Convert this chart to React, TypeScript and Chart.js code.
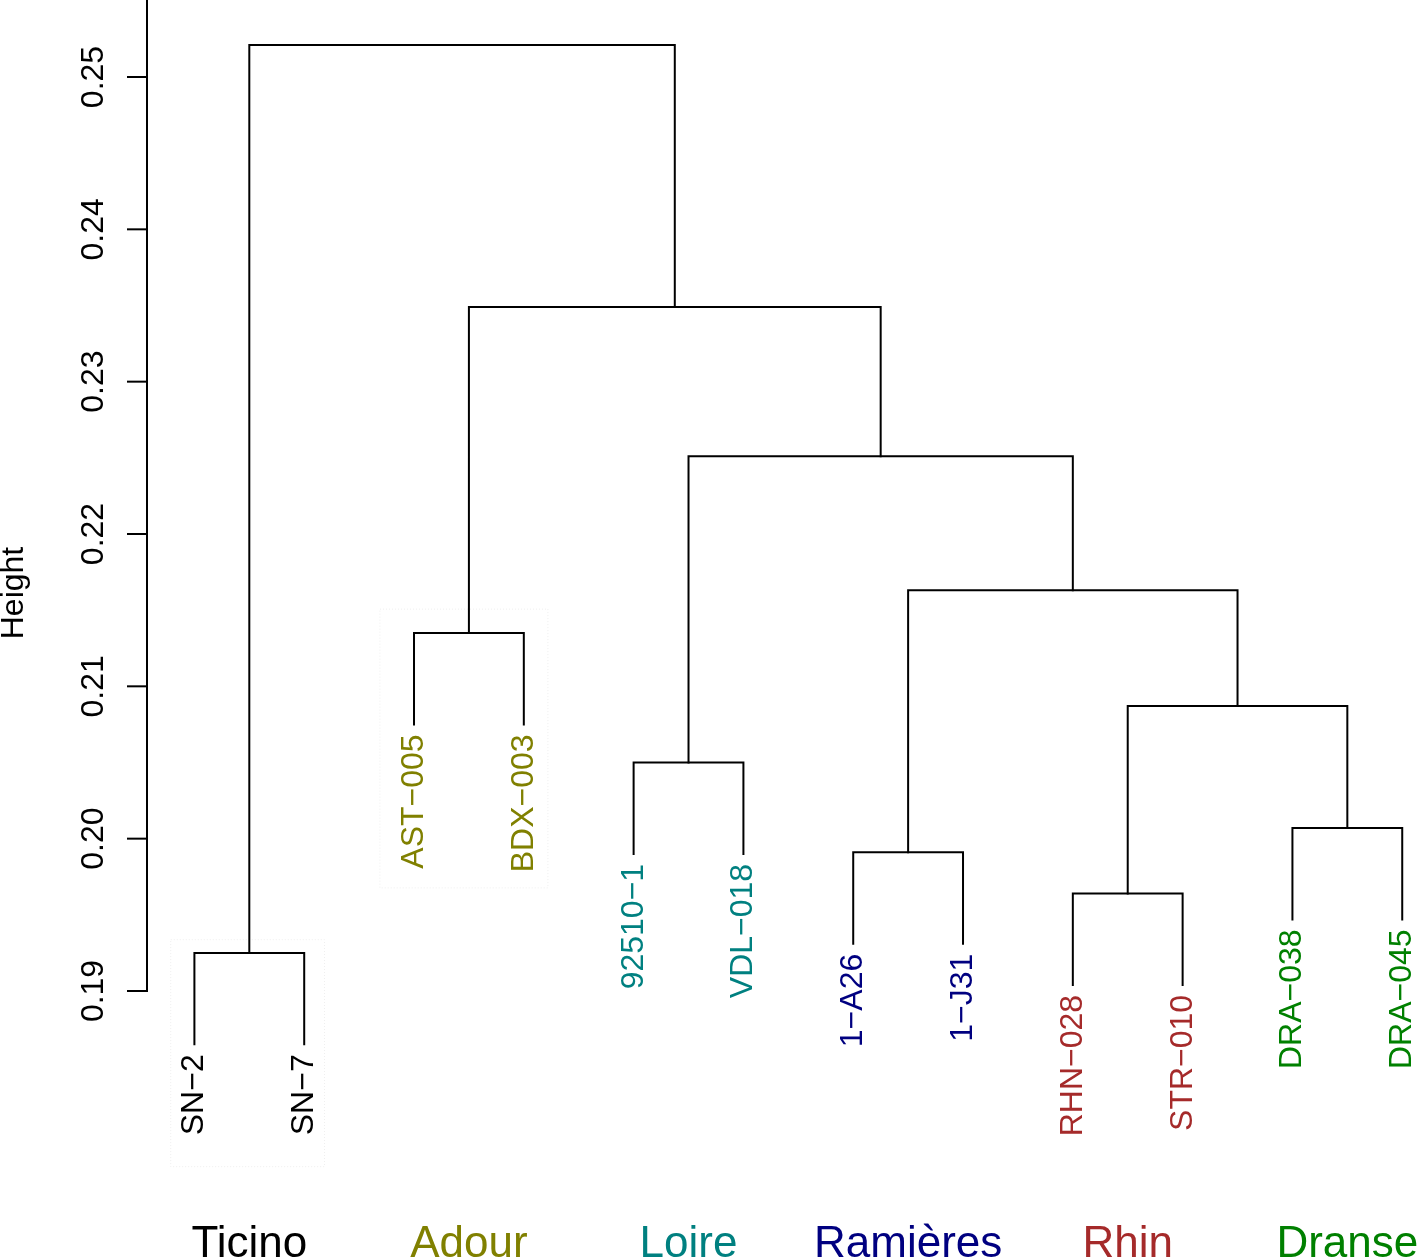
import React, { useEffect, useRef } from "react";
import { Chart, registerables } from "chart.js";
Chart.register(...registerables);

// ---- data ----
const leafLabels = ["SN−2", "SN−7", "AST−005", "BDX−003", "92510−1", "VDL−018", "1−A26", "1−J31", "RHN−028", "STR−010", "DRA−038", "DRA−045"];
const leafGroup = [0, 0, 1, 1, 2, 2, 3, 3, 4, 4, 5, 5];
const groupNames = ["Ticino", "Adour", "Loire", "Ramières", "Rhin", "Dranse"];
const groupColors = ["#000000", "#808000", "#008080", "#000080", "#A52A2A", "#008000"];
// R-style merge matrix: negative = leaf (1-based), positive = earlier merge (1-based)
const mergeLeft = [-1, -9, -7, -11, -5, 2, -3, 3, 5, 7, 1];
const mergeRight = [-2, -10, -8, -12, -6, 4, -4, 6, 8, 9, 10];
const mergeHeight = [0.1925, 0.1964, 0.1991, 0.2007, 0.205, 0.2087, 0.2135, 0.2163, 0.2251, 0.2349, 0.2521];
const leafHang = 0.006;
const yTicks = [0.19, 0.2, 0.21, 0.22, 0.23, 0.24, 0.25];
const yTickLabels = ["0.19", "0.20", "0.21", "0.22", "0.23", "0.24", "0.25"];
// faint boxes around two clusters (x in leaf units, y in height units)
const boxX0 = [0.78, 2.685];
const boxX1 = [2.18, 4.215];
const boxTop = [0.1934, 0.2151];
const boxBottom = [0.1785, 0.1968];

// ---- derived dendrogram geometry ----
const mergeX: number[] = [];
const leafBottom: number[] = new Array(leafLabels.length).fill(0);
const nodeX = (r: number) => (r < 0 ? -r : mergeX[r - 1]);
const childBottom = (r: number, h: number) => (r < 0 ? h - leafHang : mergeHeight[r - 1]);
const segments: { x: number; y: number }[][] = [];
for (let k = 0; k < mergeHeight.length; k++) {
  const l = mergeLeft[k];
  const r = mergeRight[k];
  const h = mergeHeight[k];
  const xl = nodeX(l);
  const xr = nodeX(r);
  mergeX.push((xl + xr) / 2);
  if (l < 0) leafBottom[-l - 1] = h - leafHang;
  if (r < 0) leafBottom[-r - 1] = h - leafHang;
  segments.push([
    { x: xl, y: childBottom(l, h) },
    { x: xl, y: h },
    { x: xr, y: h },
    { x: xr, y: childBottom(r, h) },
  ]);
}

const FONT = "'Liberation Sans', Arial, Helvetica, sans-serif";
const AXIS_X = 147;

const overlayPlugin = {
  id: "dendroOverlay",
  afterDraw(chart: any) {
    const ctx = chart.ctx;
    const xs = chart.scales.x;
    const ys = chart.scales.y;
    const area = chart.chartArea;
    ctx.save();

    // faint dotted boxes
    ctx.strokeStyle = "rgba(0,0,0,0.07)";
    ctx.lineWidth = 1;
    ctx.setLineDash([1, 2]);
    for (let i = 0; i < boxX0.length; i++) {
      const x0 = xs.getPixelForValue(boxX0[i]);
      const x1 = xs.getPixelForValue(boxX1[i]);
      const y0 = ys.getPixelForValue(boxTop[i]);
      const y1 = ys.getPixelForValue(boxBottom[i]);
      ctx.strokeRect(x0 + 0.5, y0 + 0.5, x1 - x0, y1 - y0);
    }
    ctx.setLineDash([]);

    // y axis
    ctx.strokeStyle = "#000";
    ctx.lineWidth = 2;
    ctx.beginPath();
    ctx.moveTo(AXIS_X, ys.getPixelForValue(yTicks[0]) + 1);
    ctx.lineTo(AXIS_X, area.top);
    ctx.stroke();
    ctx.fillStyle = "#000";
    ctx.font = `32px ${FONT}`;
    yTicks.forEach((t, i) => {
      const py = ys.getPixelForValue(t);
      ctx.beginPath();
      ctx.moveTo(AXIS_X - 20, py);
      ctx.lineTo(AXIS_X + 1, py);
      ctx.stroke();
      ctx.save();
      ctx.translate(103, py);
      ctx.rotate(-Math.PI / 2);
      ctx.textAlign = "center";
      ctx.textBaseline = "alphabetic";
      ctx.fillText(yTickLabels[i], 0, 0);
      ctx.restore();
    });

    // axis title
    ctx.save();
    ctx.translate(23, 593);
    ctx.rotate(-Math.PI / 2);
    ctx.textAlign = "center";
    ctx.textBaseline = "alphabetic";
    ctx.fillText("Height", 0, 0);
    ctx.restore();

    // leaf labels
    leafLabels.forEach((lab, i) => {
      const px = xs.getPixelForValue(i + 1);
      const py = ys.getPixelForValue(leafBottom[i]);
      ctx.save();
      ctx.fillStyle = groupColors[leafGroup[i]];
      ctx.translate(px + 9, py + 10);
      ctx.rotate(-Math.PI / 2);
      ctx.textAlign = "right";
      ctx.textBaseline = "alphabetic";
      ctx.fillText(lab, 0, 0);
      ctx.restore();
    });

    // group labels
    ctx.font = `44px ${FONT}`;
    ctx.textAlign = "center";
    ctx.textBaseline = "alphabetic";
    groupNames.forEach((g, gi) => {
      const idx = leafGroup.map((v, i) => (v === gi ? i + 1 : -1)).filter((v) => v > 0);
      const cx = idx.reduce((a, b) => a + b, 0) / idx.length;
      ctx.fillStyle = groupColors[gi];
      ctx.fillText(g, xs.getPixelForValue(cx), 1257);
    });

    ctx.restore();
  },
};

export default function App() {
  const ref = useRef<HTMLCanvasElement | null>(null);
  useEffect(() => {
    if (!ref.current) return;
    const chart = new Chart(ref.current, {
      type: "scatter",
      data: {
        datasets: segments.map((seg) => ({
          data: seg,
          showLine: true,
          borderColor: "#000",
          borderWidth: 2,
          pointRadius: 0,
          tension: 0,
          fill: false,
          borderCapStyle: "square",
          borderJoinStyle: "miter",
        })),
      },
      options: {
        animation: false,
        responsive: false,
        devicePixelRatio: 1,
        events: [],
        layout: { padding: 0 },
        plugins: { legend: { display: false }, tooltip: { enabled: false }, title: { display: false } },
        scales: {
          x: { type: "linear", display: false, min: -0.7705, max: 12.1436 },
          y: { type: "linear", display: false, min: 0.172471, max: 0.255055 },
        },
      },
      plugins: [overlayPlugin],
    } as any);
    return () => chart.destroy();
  }, []);
  return (
    <div style={{ position: "absolute", left: 0, top: 0, width: 1418, height: 1258, background: "#fff" }}>
      <canvas ref={ref} width={1418} height={1258} style={{ display: "block", width: 1418, height: 1258 }} />
    </div>
  );
}
